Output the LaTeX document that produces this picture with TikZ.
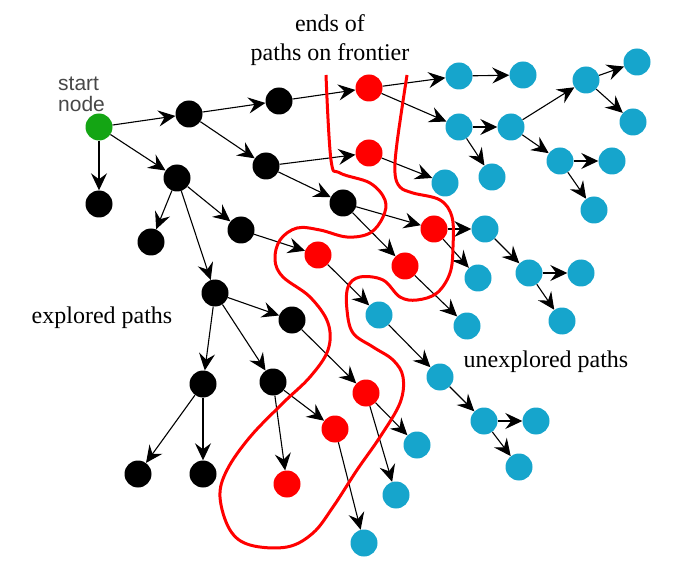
\documentclass[tikz,border=0pt]{standalone}
\usepackage{fontspec}
\setmainfont{Liberation Serif}
\setsansfont{Liberation Sans}
\usetikzlibrary{arrows.meta}
\definecolor{startgreen}{RGB}{20,165,20}
\definecolor{openblue}{RGB}{22,165,204}
\begin{document}
\begin{tikzpicture}[x=1pt,y=-1pt,
		dot/.style={circle,inner sep=0pt,minimum size=27pt},
		startdot/.style={dot,fill=startgreen},
		done/.style={dot,fill=black},
		front/.style={dot,fill=red},
		fresh/.style={dot,fill=openblue},
		link/.style={draw,line width=1.1pt,-{Stealth[length=17pt,width=16pt,inset=6pt]}}]
			\useasboundingbox (0,0) rectangle (675,572);

			\node[startdot] (s) at (99,127) {};
			\node[align=left,anchor=west,inner sep=0pt,text=black!72,font=\sffamily\fontsize{21}{21}\selectfont] (sl) at (58,94) {start\\node};

			\node[done] (b1) at (189,114) {};
			\node[done] (b2) at (279,101) {};
			\node[done] (b3) at (266,166) {};
			\node[done] (b4) at (99,204) {};
			\node[done] (b5) at (177,178) {};
			\node[done] (b6) at (151,242) {};
			\node[done] (b7) at (241,230) {};
			\node[done] (b8) at (343,203) {};
			\node[done] (b9) at (215,293) {};
			\node[done] (b10) at (292,320) {};
			\node[done] (b11) at (203,384) {};
			\node[done] (b12) at (273,382) {};
			\node[done] (b13) at (138,474) {};
			\node[done] (b14) at (203,474) {};

			\node[front] (r1) at (369,88) {};
			\node[front] (r2) at (369,153) {};
			\node[front] (r3) at (434,229) {};
			\node[front] (r4) at (405,266) {};
			\node[front] (r5) at (318,255) {};
			\node[front] (r6) at (366,393) {};
			\node[front] (r7) at (335,429) {};
			\node[front] (r8) at (287,484) {};

			\node[fresh] (c1) at (459,76) {};
			\node[fresh] (c2) at (523,75) {};
			\node[fresh] (c3) at (459,127) {};
			\node[fresh] (c4) at (511,127) {};
			\node[fresh] (c5) at (492,177) {};
			\node[fresh] (c6) at (586,80) {};
			\node[fresh] (c7) at (637,62) {};
			\node[fresh] (c8) at (633,122) {};
			\node[fresh] (c9) at (560,161) {};
			\node[fresh] (c10) at (612,161) {};
			\node[fresh] (c11) at (594,210) {};
			\node[fresh] (c12) at (445,183) {};
			\node[fresh] (c13) at (485,229) {};
			\node[fresh] (c14) at (478,278) {};
			\node[fresh] (c15) at (529,273) {};
			\node[fresh] (c16) at (581,273) {};
			\node[fresh] (c17) at (562,321) {};
			\node[fresh] (c18) at (467,326) {};
			\node[fresh] (c19) at (379,315) {};
			\node[fresh] (c20) at (440,377) {};
			\node[fresh] (c21) at (484,421) {};
			\node[fresh] (c22) at (536,421) {};
			\node[fresh] (c23) at (519,467) {};
			\node[fresh] (c24) at (417,445) {};
			\node[fresh] (c25) at (396,495) {};
			\node[fresh] (c26) at (364,543) {};

			\path[link] (s) -- (b1);
			\path[link] (s) -- (b4);
			\path[link] (s) -- (b5);
			\path[link] (b1) -- (b2);
			\path[link] (b1) -- (b3);
			\path[link] (b2) -- (r1);
			\path[link] (b3) -- (r2);
			\path[link] (b3) -- (b8);
			\path[link] (b5) -- (b6);
			\path[link] (b5) -- (b7);
			\path[link] (b5) -- (b9);
			\path[link] (b7) -- (r5);
			\path[link] (b8) -- (r3);
			\path[link] (b8) -- (r4);
			\path[link] (b9) -- (b10);
			\path[link] (b9) -- (b11);
			\path[link] (b9) -- (b12);
			\path[link] (b10) -- (r6);
			\path[link] (b11) -- (b13);
			\path[link] (b11) -- (b14);
			\path[link] (b12) -- (r7);
			\path[link] (b12) -- (r8);

			\path[link] (r1) -- (c1);
			\path[link] (r1) -- (c3);
			\path[link] (c1) -- (c2);
			\path[link] (c3) -- (c4);
			\path[link] (c3) -- (c5);
			\path[link] (c4) -- (c6);
			\path[link] (c4) -- (c9);
			\path[link] (c6) -- (c7);
			\path[link] (c6) -- (c8);
			\path[link] (c9) -- (c10);
			\path[link] (c9) -- (c11);
			\path[link] (r2) -- (c12);
			\path[link] (r3) -- (c13);
			\path[link] (r3) -- (c14);
			\path[link] (c13) -- (c15);
			\path[link] (c15) -- (c16);
			\path[link] (c15) -- (c17);
			\path[link] (r4) -- (c18);
			\path[link] (r5) -- (c19);
			\path[link] (c19) -- (c20);
			\path[link] (c20) -- (c21);
			\path[link] (c21) -- (c22);
			\path[link] (c21) -- (c23);
			\path[link] (r6) -- (c24);
			\path[link] (r6) -- (c25);
			\path[link] (r7) -- (c26);

			% frontier line
			\draw[red,line width=3pt,line join=round] plot[smooth,tension=0.6] coordinates {
				(326,75) (331,160) (340,173) (370,183) (385,200) (383,217) (370,233)
				(347,237) (320,230) (297,228) (280,240) (275,260) (283,277) (310,297)
				(328,323) (328,350) (310,377) (283,403) (250,437) (227,470) (220,497)
				(230,530) (250,545) (287,547) (313,533) (333,507) (357,470) (380,437)
				(400,403) (403,377) (393,360) (373,347) (353,333) (347,310) (348,287)
				(360,277) (383,280) (400,297) (417,300) (437,293) (450,273) (453,247)
				(452,217) (440,200) (413,193) (400,187) (395,173) (397,143) (407,75)};

			\node[align=center,font=\fontsize{24}{29}\selectfont] (fl) at (330,40) {ends of\\paths on frontier};
			\node[font=\fontsize{24}{29}\selectfont] (el) at (102,318) {explored paths};
			\node[font=\fontsize{24}{29}\selectfont] (ul) at (546,362) {unexplored paths};
\end{tikzpicture}
\end{document}
